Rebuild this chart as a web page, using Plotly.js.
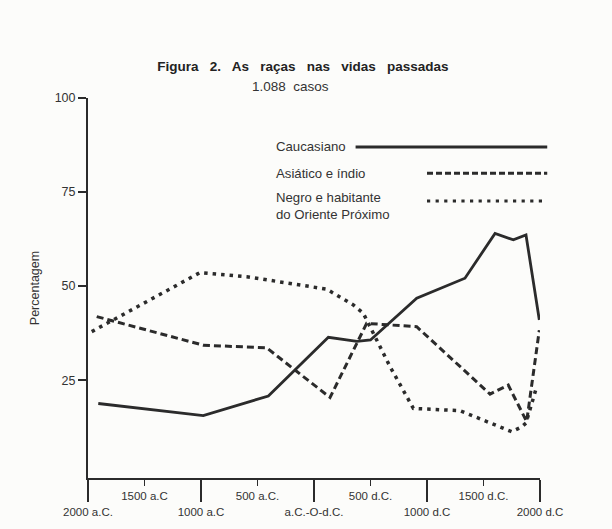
<!DOCTYPE html>
<html>
<head>
<meta charset="utf-8">
<script src="https://cdn.plot.ly/plotly-3.0.1.min.js"></script>
<style>html,body{margin:0;padding:0;background:#fcfcfa;}</style>
</head>
<body>
<div id="chart" style="width:612px;height:529px;"></div>
<script>
// ---- data ----
const yearsCauc = [-1909, -980, -404, 127, 380, 500, 909, 1336, 1602, 1764, 1876, 1994];
const cauc      = [18.8, 15.6, 20.8, 36.4, 35.3, 35.7, 46.8, 52.1, 64.0, 62.3, 63.6, 41.0];

const yearsAsia = [-1923, -980, -419, 142, 466, 909, 1558, 1719, 1882, 1994];
const asia      = [41.9, 34.3, 33.6, 20.4, 40.1, 39.2, 21.3, 23.7, 14.0, 38.3];

const yearsNegro = [-1967, -1009, -596, 112, 348, 436, 673, 879, 1292, 1750, 1838, 1876, 1971];
const negro      = [37.9, 53.6, 52.5, 49.2, 45.0, 42.8, 28.6, 17.5, 16.9, 11.3, 12.6, 13.6, 23.3];

const majorVals = [-2000, -1000, 0, 1000, 2000];
const majorText = ['2000 a.C.', '1000 a.C', 'a.C.-O-d.C.', '1000 d.C', '2000 d.C'];
const minorVals = [-1500, -500, 500, 1500];
const minorText = ['1500 a.C', '500 a.C.', '500 d.C.', '1500 d.C.'];
const yVals = [25, 50, 75, 100];

const seriesNames = ['Caucasiano', 'Asiático e índio', 'Negro e habitante<br>do Oriente Próximo'];

const ink = '#2b2b2b';
const txt = '#333333';
const dashA = '7px,4px';
const dotN = '3.5px,5px';

const traces = [
  {x: yearsCauc, y: cauc, type: 'scatter', mode: 'lines', name: 'Caucasiano',
   line: {color: ink, width: 2.8}},
  {x: yearsAsia, y: asia, type: 'scatter', mode: 'lines', name: 'Asiático e índio',
   line: {color: ink, width: 3, dash: dashA}},
  {x: yearsNegro, y: negro, type: 'scatter', mode: 'lines', name: 'Negro e habitante do Oriente Próximo',
   line: {color: ink, width: 3.5, dash: dotN}},
  {x: [-2000, 2000], y: [null, null], xaxis: 'x2', yaxis: 'y', type: 'scatter', mode: 'lines',
   hoverinfo: 'skip', showlegend: false}
];

const font = 'Liberation Sans, Arial, Helvetica, sans-serif';

const legendY = [0.872, 0.802, 0.716];
const legendLineY = [0.871, 0.802, 0.729];
const legendX0 = [0.592, 0.75, 0.75];
const legendDash = ['solid', '6px,3px', '3.2px,5.4px'];
const legendW = [2.8, 3, 3.2];

const annotations = seriesNames.map((s, i) => ({
  text: s, xref: 'paper', yref: 'paper', x: 0.412, y: legendY[i],
  xanchor: 'left', yanchor: 'middle', align: 'left', showarrow: false,
  font: {size: 13.2, color: txt}
}));
annotations.push({
  text: '1.088&nbsp; casos', xref: 'paper', yref: 'paper', x: 0.447, y: 1.029,
  xanchor: 'center', yanchor: 'middle', showarrow: false, font: {size: 13.5, color: txt}
});

const shapes = seriesNames.map((s, i) => ({
  type: 'line', xref: 'paper', yref: 'paper', x0: legendX0[i], x1: 1.016,
  y0: legendLineY[i], y1: legendLineY[i],
  line: {color: ink, width: legendW[i], dash: legendDash[i]}
}));

const layout = {
  width: 612, height: 529,
  paper_bgcolor: '#fcfcfa', plot_bgcolor: '#fcfcfa',
  margin: {l: 88, r: 72, t: 98, b: 51},
  showlegend: false,
  font: {family: font, color: txt, size: 12},
  title: {text: 'Figura&nbsp;&nbsp; 2.&nbsp;&nbsp; As&nbsp;&nbsp; raças&nbsp;&nbsp; nas&nbsp;&nbsp; vidas&nbsp;&nbsp; passadas',
          font: {size: 13.5, weight: 'bold', color: '#222'},
          x: 0.495, xanchor: 'center', y: 0.875, yanchor: 'middle'},
  xaxis: {range: [-2000, 2000], tickvals: majorVals, ticktext: majorText,
          ticks: 'outside', ticklen: 22, tickwidth: 1.8, tickcolor: ink,
          showline: true, linewidth: 2, linecolor: ink, showgrid: false, zeroline: false,
          tickfont: {size: 11.5, color: txt}, fixedrange: true},
  xaxis2: {range: [-2000, 2000], overlaying: 'x', anchor: 'y', side: 'bottom',
           tickvals: minorVals, ticktext: minorText,
           ticks: 'outside', ticklen: 7, tickwidth: 1.8, tickcolor: ink,
           showline: false, showgrid: false, zeroline: false,
           tickfont: {size: 11.5, color: txt}},
  yaxis: {range: [-1, 100], tickvals: yVals, ticks: 'outside', ticklen: 8, tickwidth: 1.5,
          tickcolor: ink, showline: true, linewidth: 2, linecolor: ink,
          showgrid: false, zeroline: false, tickfont: {size: 12.5, color: txt},
          title: {text: 'Percentagem', font: {size: 12.5, color: txt}, standoff: 12}},
  annotations: annotations,
  shapes: shapes
};

Plotly.newPlot('chart', traces, layout, {displayModeBar: false, staticPlot: true});
</script>
</body>
</html>
